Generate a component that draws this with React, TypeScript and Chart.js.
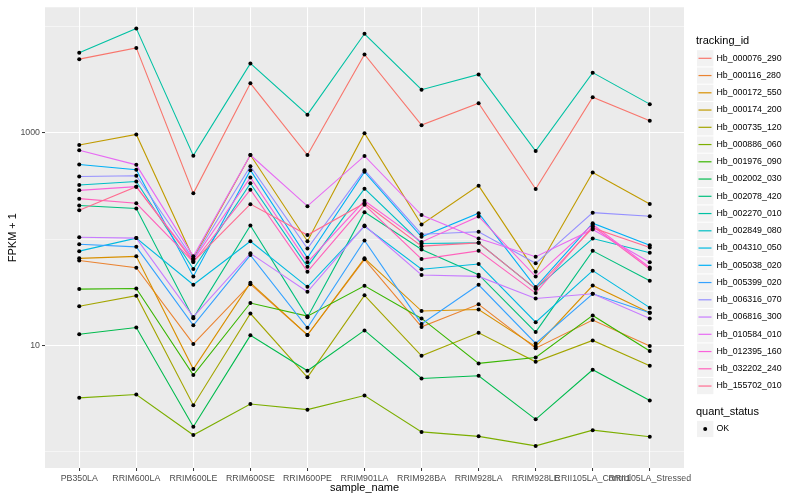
import React, { useEffect, useRef } from "react";
import { Chart, registerables } from "chart.js";

Chart.register(...registerables);

const categories = [
  "PB350LA",
  "RRIM600LA",
  "RRIM600LE",
  "RRIM600SE",
  "RRIM600PE",
  "RRIM901LA",
  "RRIM928BA",
  "RRIM928LA",
  "RRIM928LE",
  "RRII105LA_Control",
  "RRII105LA_Stressed",
];

const yTickValues = [1, 10, 100, 1000, 10000];
const yTickLabels = ["", "10", "", "1000", ""];
const yMajorTicks = [10, 1000];

const seriesNames = [
  "Hb_000076_290",
  "Hb_000116_280",
  "Hb_000172_550",
  "Hb_000174_200",
  "Hb_000735_120",
  "Hb_000886_060",
  "Hb_001976_090",
  "Hb_002002_030",
  "Hb_002078_420",
  "Hb_002270_010",
  "Hb_002849_080",
  "Hb_004310_050",
  "Hb_005038_020",
  "Hb_005399_020",
  "Hb_006316_070",
  "Hb_006816_300",
  "Hb_010584_010",
  "Hb_012395_160",
  "Hb_032202_240",
  "Hb_155702_010",
];

const seriesColors = [
  "#F8766D", "#EA8331", "#D89000", "#C09B00", "#A3A500",
  "#7CAE00", "#39B600", "#00BB4E", "#00BF7D", "#00C1A3",
  "#00BFC4", "#00BAE0", "#00B0F6", "#35A2FF", "#9590FF",
  "#C77CFF", "#E76BF3", "#FA62DB", "#FF62BC", "#FF6C91",
];

// FPKM + 1 values, in category order
const hb000076_290 = [4930, 6290, 269, 2920, 618, 5450, 1180, 1900, 296, 2160, 1300];
const hb000116_280 = [62.8, 53.7, 10.3, 37.6, 12.5, 64.4, 14.9, 24.3, 9.4, 17.3, 9.85];
const hb000172_550 = [65.8, 68.7, 5.97, 38.7, 12.5, 65.8, 21, 21.7, 9.72, 36.5, 20.2];
const hb000174_200 = [766, 964, 65.8, 618, 95.3, 991, 137, 318, 49.3, 423, 214];
const hb000735_120 = [23.3, 29.3, 2.73, 19.9, 5.0, 29.5, 7.95, 13.1, 6.99, 11.1, 6.41];
const hb000886_060 = [3.2, 3.44, 1.43, 2.8, 2.48, 3.37, 1.53, 1.39, 1.13, 1.59, 1.38];
const hb001976_090 = [33.8, 34.2, 5.25, 25, 18.8, 36.3, 17.9, 6.75, 7.68, 19.1, 8.85];
const hb002002_030 = [12.7, 14.7, 1.71, 12.4, 5.76, 13.8, 4.87, 5.17, 2.01, 5.88, 3.02];
const hb002078_420 = [207, 194, 18, 134, 18.4, 179, 79.8, 46.2, 13.3, 77.4, 40.4];
const hb002270_010 = [5650, 9600, 609, 4490, 1480, 8550, 2540, 3540, 674, 3680, 1860];
const hb002849_080 = [322, 348, 52.3, 334, 54.9, 298, 90.8, 92, 34, 101, 74.2];
const hb004310_050 = [76.9, 102, 37.1, 95.3, 35.5, 132, 52, 58.2, 16.5, 50.4, 22.6];
const hb005038_020 = [502, 448, 44.5, 445, 66.6, 429, 105, 175, 35.3, 141, 87.5];
const hb005399_020 = [89.4, 84.4, 15.4, 70.6, 14.6, 96.8, 15.9, 37.1, 10.4, 30.5, 20.2];
const hb006316_070 = [388, 394, 64.8, 485, 81.5, 445, 111, 117, 59.1, 177, 164];
const hb006816_300 = [104, 102, 18.5, 73.3, 31.9, 134, 45.9, 44.5, 27.6, 30.5, 17.9];
const hb010584_010 = [684, 499, 68.7, 618, 204, 605, 168, 101, 68.1, 123, 60.4];
const hb012395_160 = [287, 311, 63.4, 380, 60.4, 229, 94, 163, 44.3, 137, 54];
const hb032202_240 = [240, 217, 60.8, 291, 49.3, 210, 64.8, 77.4, 31, 132, 52.3];
const hb155702_010 = [187, 311, 61.1, 213, 109, 217, 85.7, 92, 34, 127, 83.3];

const seriesValues = [
  hb000076_290, hb000116_280, hb000172_550, hb000174_200, hb000735_120,
  hb000886_060, hb001976_090, hb002002_030, hb002078_420, hb002270_010,
  hb002849_080, hb004310_050, hb005038_020, hb005399_020, hb006316_070,
  hb006816_300, hb010584_010, hb012395_160, hb032202_240, hb155702_010,
];

const quantStatus = ["OK"];

const FONT = '"Liberation Sans", Arial, Helvetica, sans-serif';

export default function App() {
  const ref = useRef<HTMLCanvasElement>(null);

  useEffect(() => {
    if (!ref.current) return;

    const lineSets = seriesValues.map((vals, i) => ({
      label: seriesNames[i],
      data: vals.map((v, j) => ({ x: j, y: v })),
      borderColor: seriesColors[i],
      backgroundColor: seriesColors[i],
      borderWidth: 1.1,
      pointRadius: 0,
      fill: false,
      tension: 0,
      order: seriesValues.length - i,
    }));

    const pointSet = {
      label: "quant_status",
      data: seriesValues.flatMap((vals) => vals.map((v, j) => ({ x: j, y: v }))),
      showLine: false,
      pointRadius: 2,
      pointBackgroundColor: "#000000",
      pointBorderWidth: 0,
      borderColor: "#000000",
      backgroundColor: "#000000",
      order: 0,
    };

    const bgPlugin = {
      id: "panelBg",
      beforeDraw(chart: any) {
        const { ctx, chartArea } = chart;
        ctx.save();
        ctx.fillStyle = "#FFFFFF";
        ctx.fillRect(0, 0, chart.width, chart.height);
        ctx.fillStyle = "#EBEBEB";
        ctx.fillRect(chartArea.left, chartArea.top, chartArea.right - chartArea.left, chartArea.bottom - chartArea.top);
        ctx.restore();
      },
    };

    const decorPlugin = {
      id: "decor",
      afterDraw(chart: any) {
        const { ctx, chartArea } = chart;
        ctx.save();
        ctx.fillStyle = "#000000";
        ctx.textBaseline = "middle";
        // axis titles
        ctx.font = `11px ${FONT}`;
        ctx.textAlign = "center";
        ctx.fillText("sample_name", (chartArea.left + chartArea.right) / 2, 488);
        ctx.save();
        ctx.translate(12.5, (chartArea.top + chartArea.bottom) / 2);
        ctx.rotate(-Math.PI / 2);
        ctx.fillText("FPKM + 1", 0, 0);
        ctx.restore();

        // legend: tracking_id
        ctx.textAlign = "left";
        ctx.font = `11px ${FONT}`;
        ctx.fillText("tracking_id", 696, 40.7);
        const step = 17.25;
        seriesNames.forEach((name, i) => {
          const cy = 58.3 + i * step;
          ctx.fillStyle = "#F2F2F2";
          ctx.fillRect(697, cy - 8.1, 16.4, 16.2);
          ctx.strokeStyle = seriesColors[i];
          ctx.lineWidth = 1.2;
          ctx.beginPath();
          ctx.moveTo(698.5, cy);
          ctx.lineTo(711.5, cy);
          ctx.stroke();
          ctx.fillStyle = "#000000";
          ctx.font = `8.8px ${FONT}`;
          ctx.fillText(name, 716.5, cy);
        });

        // legend: quant_status
        ctx.font = `11px ${FONT}`;
        ctx.fillStyle = "#000000";
        ctx.fillText("quant_status", 696, 412.3);
        quantStatus.forEach((s, i) => {
          const cy = 429 + i * step;
          ctx.fillStyle = "#F2F2F2";
          ctx.fillRect(697, cy - 8.1, 16.4, 16.2);
          ctx.fillStyle = "#000000";
          ctx.beginPath();
          ctx.arc(705.2, cy, 2, 0, Math.PI * 2);
          ctx.fill();
          ctx.font = `8.8px ${FONT}`;
          ctx.fillText(s, 716.5, cy);
        });
        ctx.restore();
      },
    };

    const chart = new Chart(ref.current, {
      type: "line",
      data: { datasets: [...lineSets, pointSet] as any },
      options: {
        animation: false,
        responsive: false,
        events: [],
        layout: { padding: { top: 5, right: 116, bottom: 0, left: 0 } },
        plugins: {
          legend: { display: false },
          tooltip: { enabled: false },
          title: { display: false },
        },
        scales: {
          x: {
            type: "linear",
            min: -0.6,
            max: 10.6,
            afterBuildTicks: (s: any) => {
              s.ticks = categories.map((_, i) => ({ value: i }));
            },
            afterFit: (s: any) => {
              s.height = 32;
            },
            border: { display: false },
            grid: {
              color: "#FFFFFF",
              lineWidth: 1.07,
              drawTicks: true,
              tickLength: 3,
              tickWidth: 1,
              tickColor: "#333333",
            },
            ticks: {
              autoSkip: false,
              maxRotation: 0,
              minRotation: 0,
              padding: 2,
              color: "#4D4D4D",
              font: { family: FONT, size: 8.8 },
              callback: (v: any) => categories[Math.round(Number(v))] ?? "",
            },
          },
          y: {
            type: "logarithmic",
            min: 0.728,
            max: 15170,
            afterBuildTicks: (s: any) => {
              s.ticks = yTickValues.map((v) => ({ value: v }));
            },
            afterFit: (s: any) => {
              s.width = 45;
            },
            border: { display: false },
            grid: {
              color: "#FFFFFF",
              lineWidth: (c: any) => (yMajorTicks.includes(c.tick?.value) ? 1.07 : 0.53),
              drawTicks: true,
              tickLength: 3,
              tickWidth: 1,
              tickColor: (c: any) => (yMajorTicks.includes(c.tick?.value) ? "#333333" : "rgba(0,0,0,0)"),
            },
            ticks: {
              padding: 2,
              color: "#4D4D4D",
              font: { family: FONT, size: 8.8 },
              callback: (v: any) => {
                const idx = yTickValues.indexOf(Number(v));
                return idx >= 0 ? yTickLabels[idx] : "";
              },
            },
          },
        },
      } as any,
      plugins: [bgPlugin, decorPlugin],
    });

    return () => chart.destroy();
  }, []);

  return (
    <div style={{ position: "absolute", left: 0, top: 0, width: 800, height: 500, background: "#FFFFFF" }}>
      <canvas ref={ref} width={800} height={500} style={{ width: 800, height: 500, display: "block" }} />
    </div>
  );
}
